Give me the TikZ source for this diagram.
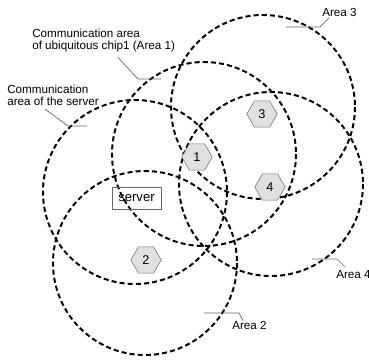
\documentclass[tikz,border=0pt]{standalone}
\usepackage{fontspec}
\setmainfont{Liberation Sans}
\usetikzlibrary{shapes.geometric}

\tikzset{
  area/.style={line width=1.4pt, dash pattern=on 3.6pt off 2.2pt},
  chip/.style={regular polygon, regular polygon sides=6, draw=black!55,
    fill=black!12, minimum size=0.76cm, inner sep=0pt,
    font=\fontsize{9}{9}\selectfont},
  srvbox/.style={draw=black!60, minimum width=1.225cm, minimum height=0.55cm,
    inner sep=0pt, font=\fontsize{9.3}{9.3}\selectfont},
  lbl/.style={inner sep=0pt, align=left, font=\fontsize{8.3}{8.5}\selectfont},
  leader/.style={draw=black!60, line width=0.5pt},
}

\begin{document}
\begin{tikzpicture}[x=0.025cm,y=-0.025cm]
    \useasboundingbox (0,0) rectangle (369,362);
    %% Centres of the areas
    \coordinate (S) at (135,192);
    \coordinate (A1) at (204,154);
    \coordinate (A2) at (145,263);
    \coordinate (A3) at (263,107);
    \coordinate (A4) at (271,184);
    %% Areas
    \foreach \c in {S,A1,A2,A3,A4}
        \draw[area] (\c) circle (92);
    %% Chips and server
    \node[chip] (c1) at (197,157) {1};
    \node[chip] (c2) at (146,260) {2};
    \node[chip] (c3) at (262,114) {3};
    \node[chip] (c4) at (270,187) {4};
    \node[srvbox] (server) at (136.5,198) {server};
    %% Labels
    \node[lbl,anchor=north west] (lS) at (7,85)
        {Communication\\area of the server};
    \node[lbl,anchor=north west] (l1) at (32,29)
        {Communication area\\of ubiquitous chip1 (Area 1)};
    \node[lbl,anchor=north west] (l3) at (322,8) {Area 3};
    \node[lbl,anchor=north west] (l4) at (336,270) {Area 4};
    \node[lbl,anchor=north west] (l2) at (232,321.5) {Area 2};
    %% Leaders
    \coordinate (kS) at (68,126); \coordinate (eS) at (87,126);
    \coordinate (k1) at (138,79); \coordinate (e1) at (161,79);
    \coordinate (k3) at (320,27); \coordinate (e3) at (286,27);
    \coordinate (k4) at (337,259); \coordinate (e4) at (312,259);
    \coordinate (k2) at (239,313); \coordinate (e2) at (204,313);
    \draw[leader] ([shift={(38,3)}]lS.south west) -- (kS) -- (eS);
    \draw[leader] ([shift={(86,5)}]l1.south west) -- (k1) -- (e1);
    \draw[leader] ([shift={(7,1)}]l3.south west) -- (k3) -- (e3);
    \draw[leader] ([shift={(9,-3)}]l4.north west) -- (k4) -- (e4);
    \draw[leader] ([shift={(11,-1)}]l2.north west) -- (k2) -- (e2);
\end{tikzpicture}
\end{document}
